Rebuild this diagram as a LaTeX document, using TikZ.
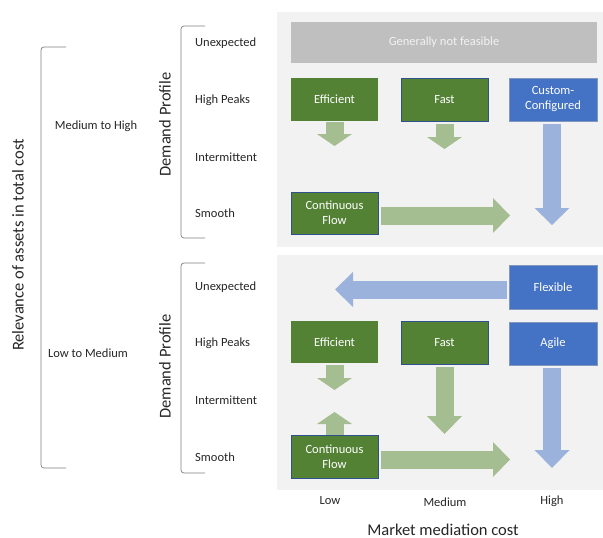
\documentclass[tikz,border=0pt]{standalone}
\usepackage{fontspec}
\setmainfont{Carlito}
\usetikzlibrary{arrows.meta}
\definecolor{panelbg}{HTML}{F2F2F2}
\definecolor{boxgreen}{HTML}{548235}
\definecolor{boxblue}{HTML}{4472C4}
\definecolor{greyband}{HTML}{BFBFBF}
\definecolor{arrowgreen}{HTML}{A4BD91}
\definecolor{arrowblue}{HTML}{9BB2DC}
\definecolor{edgeblue}{HTML}{2F528F}
\definecolor{bracketgrey}{HTML}{808080}
\definecolor{labeltext}{HTML}{262626}
\begin{document}
\begin{tikzpicture}[x=1pt,y=-1pt,
  panel/.style={fill=panelbg},
  gbox/.style={fill=boxgreen, text=white, minimum width=87pt, minimum height=43pt,
    inner sep=0pt, align=center, font=\fontsize{12.5}{15}\selectfont},
  bbox/.style={gbox, fill=boxblue, draw=edgeblue!60, line width=0.5pt, minimum width=88pt},
  edged/.style={draw=edgeblue, line width=0.6pt},
  greybar/.style={fill=greyband, text=panelbg, minimum width=306pt, minimum height=41pt,
    inner sep=0pt, font=\fontsize{12.5}{15}\selectfont},
  rowlabel/.style={anchor=west, text=labeltext, font=\fontsize{12.5}{15}\selectfont, inner sep=0pt},
  smalllabel/.style={text=labeltext, font=\fontsize{12.5}{15}\selectfont, inner sep=0pt},
  axislabel/.style={text=labeltext, font=\fontsize{16.5}{20}\selectfont, inner sep=0pt},
  bracketline/.style={draw=bracketgrey, line width=0.7pt, rounded corners=3pt},
  fatgreen/.style={draw=arrowgreen, line width=18pt,
    -{Triangle[width=35pt,length=#1,line width=0pt]}},
  fatblue/.style={draw=arrowblue, line width=18pt,
    -{Triangle[width=35pt,length=#1,line width=0pt]}}
]
\useasboundingbox (0,0) rectangle (603,538);

% panels
\fill[panel] (277,12) rectangle (603,247);
\fill[panel] (277,255) rectangle (603,490);

% top panel boxes
\node[greybar] (nf) at (444,42.5) {Generally not feasible};
\node[gbox] (eff1) at (334.5,99.5) {Efficient};
\node[gbox, edged] (fast1) at (444.5,99.5) {Fast};
\node[bbox] (cust) at (553,99.5) {Custom-\\Configured};
\node[gbox, edged, minimum height=42pt] (cf1) at (334.5,213) {Continuous\\Flow};

% bottom panel boxes
\node[bbox, minimum height=44pt] (flex) at (553,287) {Flexible};
\node[gbox, minimum height=42pt] (eff2) at (334.5,342) {Efficient};
\node[gbox, edged] (fast2) at (444.5,342.5) {Fast};
\node[bbox] (agile) at (553,343.5) {Agile};
\node[gbox, edged] (cf2) at (334.5,456.5) {Continuous\\Flow};

% arrow tips
\coordinate (t1) at (334.5,146);
\coordinate (t2) at (444.5,149);
\coordinate (t3) at (552,225);
\coordinate (t4) at (510,215.5);
\coordinate (t5) at (335,289.5);
\coordinate (t6) at (334.5,390);
\coordinate (t7) at (334.5,412);
\coordinate (t8) at (444.5,434);
\coordinate (t9) at (552,468);
\coordinate (t10) at (510,459.5);

% top panel arrows
\draw[fatgreen=12pt, shorten <=1pt] (eff1.south) -- (t1);
\draw[fatgreen=12pt, shorten <=2.5pt] (fast1.south) -- (t2);
\draw[fatblue=17pt, shorten <=2.5pt] (cust.south -| t3) -- (t3);
\draw[fatgreen=17pt, shorten <=3pt] (cf1.east |- t4) -- (t4);

% bottom panel arrows
\draw[fatblue=18pt, shorten <=2pt] (flex.west |- t5) -- (t5);
\draw[fatgreen=12pt, shorten <=2pt] (eff2.south) -- (t6);
\draw[fatgreen=12pt] (cf2.north) -- (t7);
\draw[fatgreen=18pt, shorten <=3pt] (fast2.south) -- (t8);
\draw[fatblue=18pt, shorten <=2.5pt] (agile.south -| t9) -- (t9);
\draw[fatgreen=17pt, shorten <=3pt] (cf2.east |- t10) -- (t10);

% row labels
\node[rowlabel] (u1) at (195,43) {Unexpected};
\node[rowlabel] (h1) at (195,100) {High Peaks};
\node[rowlabel] (i1) at (195,157) {Intermittent};
\node[rowlabel] (s1) at (195,213) {Smooth};
\node[rowlabel] (u2) at (195,287) {Unexpected};
\node[rowlabel] (h2) at (195,343) {High Peaks};
\node[rowlabel] (i2) at (195,400) {Intermittent};
\node[rowlabel] (s2) at (195,457) {Smooth};

% demand profile labels and brackets
\node[axislabel, rotate=90] (dp1) at (165,124.5) {Demand Profile};
\node[axislabel, rotate=90] (dp2) at (165,366.5) {Demand Profile};
\draw[bracketline] (205,26) -- (181,26) -- (181,238) -- (205,238);
\draw[bracketline] (205,263) -- (181,263) -- (181,473) -- (205,473);

% relevance labels and bracket
\node[smalllabel] (mh) at (96,126) {Medium to High};
\node[smalllabel] (lm) at (88,353) {Low to Medium};
\draw[bracketline] (66,47) -- (41,47) -- (41,468) -- (66,468);
\node[axislabel, rotate=90] (rel) at (18,245) {Relevance of assets in total cost};

% bottom axis
\node[smalllabel] (low) at (330,501) {Low};
\node[smalllabel] (med) at (445,502) {Medium};
\node[smalllabel] (high) at (552,501) {High};
\node[axislabel, anchor=base] (mmc) at (443,535) {Market mediation cost};
\end{tikzpicture}
\end{document}
